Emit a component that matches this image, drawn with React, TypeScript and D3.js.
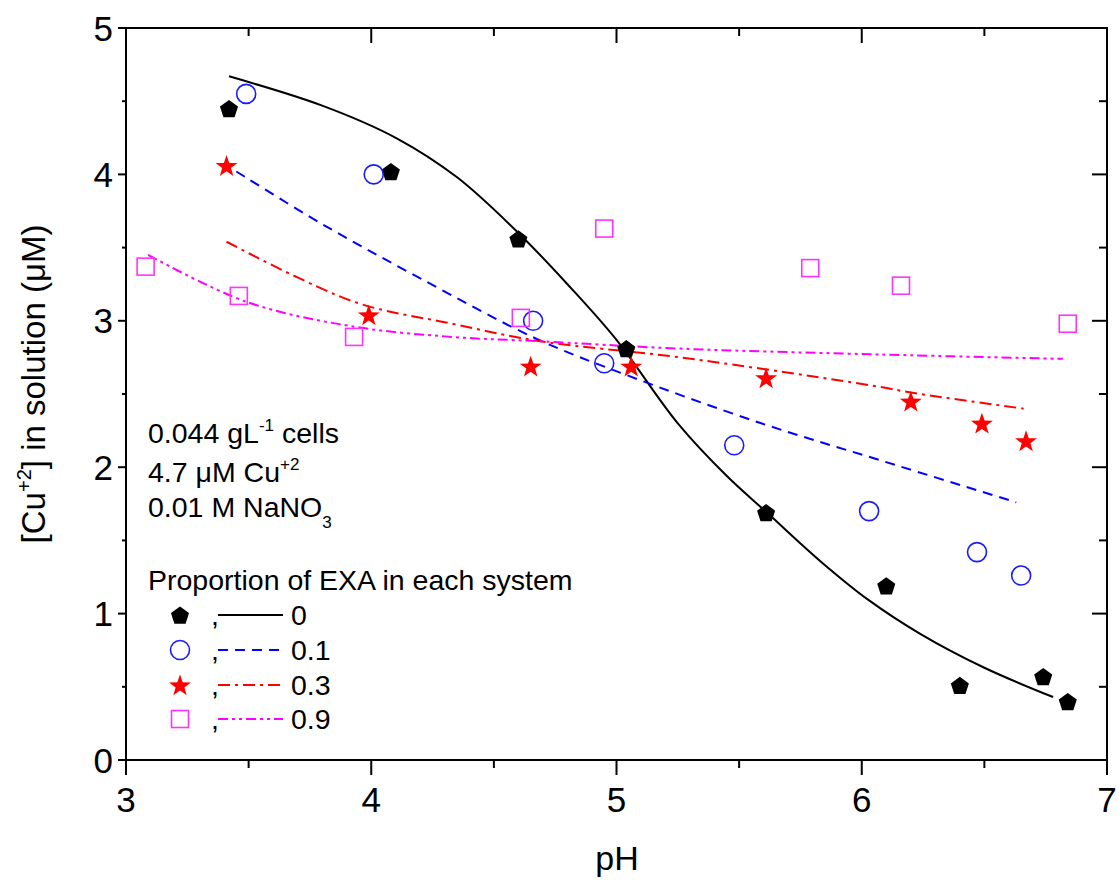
import React from "react";
import * as d3 from "d3";

// ---- data ----
const ph0 = [3.42, 4.08, 4.60, 5.04, 5.61, 6.10, 6.40, 6.74, 6.84];
const cu0 = [4.45, 4.02, 3.56, 2.81, 1.69, 1.19, 0.51, 0.57, 0.40];

const ph01 = [3.49, 4.01, 4.66, 4.95, 5.48, 6.03, 6.47, 6.65];
const cu01 = [4.55, 4.00, 3.00, 2.71, 2.15, 1.70, 1.42, 1.26];

const ph03 = [3.41, 3.99, 4.65, 5.06, 5.61, 6.20, 6.49, 6.67];
const cu03 = [4.06, 3.04, 2.69, 2.69, 2.61, 2.45, 2.30, 2.18];

const ph09 = [3.08, 3.46, 3.93, 4.61, 4.95, 5.79, 6.16, 6.84];
const cu09 = [3.37, 3.17, 2.89, 3.02, 3.63, 3.36, 3.24, 2.98];

// fitted model curves
const fitPh0 = [3.42, 3.8, 4.1, 4.35, 4.6, 4.8, 5.0, 5.25, 5.45, 5.62, 5.83, 6.03, 6.24, 6.5, 6.78];
const fitCu0 = [4.67, 4.47, 4.25, 3.98, 3.60, 3.25, 2.87, 2.30, 1.94, 1.68, 1.36, 1.09, 0.86, 0.63, 0.43];

const fitPh01 = [3.45, 3.79, 4.20, 4.67, 5.04, 5.59, 6.07, 6.63];
const fitCu01 = [4.02, 3.67, 3.29, 2.88, 2.63, 2.30, 2.05, 1.76];

const fitPh03 = [3.41, 3.93, 4.33, 4.69, 5.26, 6.07, 6.20, 6.66];
const fitCu03 = [3.54, 3.13, 2.98, 2.86, 2.75, 2.55, 2.51, 2.40];

const fitPh09 = [3.09, 3.49, 3.93, 4.33, 4.69, 5.26, 6.07, 6.82];
const fitCu09 = [3.45, 3.13, 2.96, 2.89, 2.86, 2.81, 2.77, 2.74];

const xMajor = [3, 4, 5, 6, 7];
const xMinor = [3.5, 4.5, 5.5, 6.5];
const yMajor = [0, 1, 2, 3, 4, 5];
const yMinor = [0.5, 1.5, 2.5, 3.5, 4.5];

const legendLabels = ["0", "0.1", "0.3", "0.9"];

const FONT = "'Liberation Sans', Arial, Helvetica, sans-serif";

const x = d3.scaleLinear().domain([3, 7]).range([126, 1107]);
const y = d3.scaleLinear().domain([0, 5]).range([760, 28]);

const zip = (a: number[], b: number[]) => a.map((v, i) => [v, b[i]] as [number, number]);

const lineGen = d3
  .line<[number, number]>()
  .x((d) => x(d[0]))
  .y((d) => y(d[1]))
  .curve(d3.curveCatmullRom.alpha(0.5));

function pentagonPath(r: number) {
  const pts: string[] = [];
  for (let i = 0; i < 5; i++) {
    const a = -Math.PI / 2 + (i * 2 * Math.PI) / 5;
    pts.push(`${(r * Math.cos(a)).toFixed(2)},${(r * Math.sin(a)).toFixed(2)}`);
  }
  return "M" + pts.join("L") + "Z";
}
function starPath(ro: number, ri: number) {
  const pts: string[] = [];
  for (let i = 0; i < 10; i++) {
    const r = i % 2 === 0 ? ro : ri;
    const a = -Math.PI / 2 + (i * Math.PI) / 5;
    pts.push(`${(r * Math.cos(a)).toFixed(2)},${(r * Math.sin(a)).toFixed(2)}`);
  }
  return "M" + pts.join("L") + "Z";
}

type Kind = "pent" | "circ" | "star" | "sq";
function Marker({ kind, cx, cy }: { kind: Kind; cx: number; cy: number }) {
  if (kind === "pent")
    return <path d={pentagonPath(9.5)} transform={`translate(${cx},${cy + 1})`} fill="#000" />;
  if (kind === "circ")
    return <circle cx={cx} cy={cy} r={9.5} fill="none" stroke="#1a1aff" strokeWidth={1.6} />;
  if (kind === "star")
    return <path d={starPath(11.5, 4.6)} transform={`translate(${cx},${cy + 1})`} fill="#ff0000" />;
  return (
    <rect x={cx - 8.5} y={cy - 8.5} width={17} height={17} fill="none" stroke="#ff33ff" strokeWidth={1.6} />
  );
}

const series = [
  { kind: "pent" as Kind, ph: ph0, cu: cu0, fx: fitPh0, fy: fitCu0, color: "#000000", dash: "" },
  { kind: "circ" as Kind, ph: ph01, cu: cu01, fx: fitPh01, fy: fitCu01, color: "#0000ff", dash: "10,7" },
  { kind: "star" as Kind, ph: ph03, cu: cu03, fx: fitPh03, fy: fitCu03, color: "#ff0000", dash: "12,5,3,5" },
  { kind: "sq" as Kind, ph: ph09, cu: cu09, fx: fitPh09, fy: fitCu09, color: "#ff00ff", dash: "10,4,3,4,3,4" },
];

export default function App() {
  const x0 = 126, x1 = 1107, y0 = 760, y1 = 28;
  const legendY = [615, 650, 685, 719];
  return (
    <svg width={1119} height={880} style={{ display: "block", position: "absolute", left: 0, top: 0 }} fontFamily={FONT}>
      <rect width={1119} height={880} fill="#fff" />
      {/* frame */}
      <rect x={x0} y={y1} width={x1 - x0} height={y0 - y1} fill="none" stroke="#000" strokeWidth={2} />
      {/* bottom and top ticks */}
      {xMajor.map((v) => (
        <g key={"xm" + v}>
          <line x1={x(v)} x2={x(v)} y1={y0} y2={y0 + 15} stroke="#000" strokeWidth={2} />
          <line x1={x(v)} x2={x(v)} y1={y1} y2={y1 + 15} stroke="#000" strokeWidth={2} />
          <text x={x(v)} y={812} fontSize={35} textAnchor="middle" fill="#000">
            {v}
          </text>
        </g>
      ))}
      {xMinor.map((v) => (
        <g key={"xn" + v}>
          <line x1={x(v)} x2={x(v)} y1={y0} y2={y0 + 8} stroke="#000" strokeWidth={2} />
          <line x1={x(v)} x2={x(v)} y1={y1} y2={y1 + 8} stroke="#000" strokeWidth={2} />
        </g>
      ))}
      {/* left and right ticks */}
      {yMajor.map((v) => (
        <g key={"ym" + v}>
          <line x1={x0 - 8} x2={x0} y1={y(v)} y2={y(v)} stroke="#000" strokeWidth={2} />
          <line x1={x1 - 15} x2={x1} y1={y(v)} y2={y(v)} stroke="#000" strokeWidth={2} />
          <text x={113} y={y(v) + 12.5} fontSize={35} textAnchor="end" fill="#000">
            {v}
          </text>
        </g>
      ))}
      {yMinor.map((v) => (
        <g key={"yn" + v}>
          <line x1={x0 - 4} x2={x0} y1={y(v)} y2={y(v)} stroke="#000" strokeWidth={2} />
          <line x1={x1 - 8} x2={x1} y1={y(v)} y2={y(v)} stroke="#000" strokeWidth={2} />
        </g>
      ))}
      {/* axis titles */}
      <text x={617} y={870} fontSize={34} textAnchor="middle" fill="#000">
        pH
      </text>
      <text transform="translate(45,384) rotate(-90)" fontSize={33} textAnchor="middle" fill="#000">
        [Cu<tspan fontSize={20} dy={-14}>+2</tspan>
        <tspan dy={14}>] in solution (μM)</tspan>
      </text>

      {/* fitted curves */}
      {series.map((s, i) => (
        <path
          key={"f" + i}
          d={lineGen(zip(s.fx, s.fy)) || ""}
          fill="none"
          stroke={s.color}
          strokeWidth={2}
          strokeDasharray={s.dash || undefined}
        />
      ))}
      {/* markers */}
      {series.map((s, i) => (
        <g key={"m" + i}>
          {s.ph.map((p, j) => (
            <Marker key={j} kind={s.kind} cx={x(p)} cy={y(s.cu[j])} />
          ))}
        </g>
      ))}

      {/* annotation */}
      <g fontSize={28.5} fill="#000">
        <text x={148} y={443}>
          0.044 gL<tspan fontSize={17} dy={-12}>-1</tspan>
          <tspan dy={12}> cells</tspan>
        </text>
        <text x={148} y={482}>
          4.7 μM Cu<tspan fontSize={17} dy={-12}>+2</tspan>
        </text>
        <text x={148} y={517}>
          0.01 M NaNO<tspan fontSize={17} dy={11}>3</tspan>
        </text>
        <text x={148} y={590}>Proportion of EXA in each system</text>
      </g>

      {/* legend */}
      {series.map((s, i) => (
        <g key={"l" + i}>
          <Marker kind={s.kind} cx={180} cy={legendY[i]} />
          <text x={211} y={legendY[i] + 10} fontSize={28.5} fill="#000">
            ,
          </text>
          <line
            x1={218}
            x2={283}
            y1={legendY[i]}
            y2={legendY[i]}
            stroke={s.color}
            strokeWidth={2}
            strokeDasharray={s.dash || undefined}
          />
          <text x={291} y={legendY[i] + 10} fontSize={28.5} fill="#000">
            {legendLabels[i]}
          </text>
        </g>
      ))}
    </svg>
  );
}
